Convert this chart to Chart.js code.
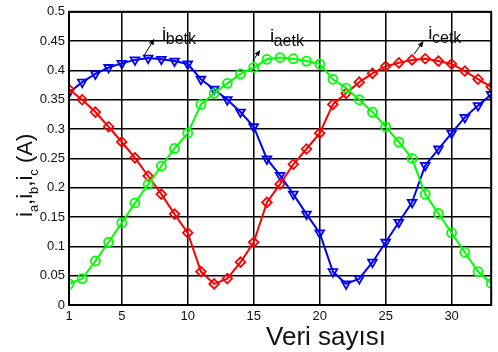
<!DOCTYPE html>
<html>
<head>
<meta charset="utf-8">
<script src="https://cdn.jsdelivr.net/npm/chart.js@4.4.1/dist/chart.umd.min.js"></script>
<style>
  html, body { margin: 0; padding: 0; background: #fff; }
  #wrap { width: 498px; height: 352px; position: relative; }
</style>
</head>
<body>
<div id="wrap"><canvas id="c" width="498" height="352"></canvas></div>
<script>
// ---- data ----
const samples = [1,2,3,4,5,6,7,8,9,10,11,12,13,14,15,16,17,18,19,20,21,22,23,24,25,26,27,28,29,30,31,32,33];
const ia = [0.036,0.045,0.075,0.107,0.140,0.174,0.206,0.237,0.267,0.293,0.342,0.361,0.378,0.394,0.405,0.419,0.422,0.420,0.416,0.411,0.385,0.370,0.350,0.329,0.304,0.278,0.250,0.189,0.156,0.123,0.090,0.057,0.037];
const ib = [0.362,0.380,0.394,0.405,0.412,0.418,0.421,0.419,0.416,0.411,0.385,0.368,0.350,0.329,0.304,0.249,0.221,0.189,0.155,0.123,0.057,0.036,0.045,0.073,0.107,0.141,0.175,0.238,0.266,0.293,0.320,0.340,0.359];
const ic = [0.368,0.350,0.329,0.304,0.278,0.251,0.220,0.189,0.155,0.123,0.057,0.036,0.045,0.073,0.107,0.175,0.206,0.240,0.266,0.293,0.342,0.361,0.380,0.395,0.407,0.413,0.418,0.420,0.416,0.411,0.399,0.385,0.372];
const xTicks = [1,5,10,15,20,25,30];
const yTickLabels = ['0','0.05','0.1','0.15','0.2','0.25','0.3','0.35','0.4','0.45','0.5'];
const xTitle = 'Veri sayısı';
const seriesNames = ['betk','aetk','cetk'];

// ---- annotation placement (data coords) ----
const annos = [
  { main: 'i', sub: seriesNames[0], tx: 8.05, ty: 0.4515, ax0: 6.68, ay0: 0.425, ax1: 7.47, ay1: 0.454 },
  { main: 'i', sub: seriesNames[1], tx: 16.23, ty: 0.449, ax0: 14.93, ay0: 0.416, ax1: 15.49, ay1: 0.435 },
  { main: 'i', sub: seriesNames[2], tx: 28.23, ty: 0.453, ax0: 27.16, ay0: 0.428, ax1: 27.87, ay1: 0.450 }
];

const FONT = "'Liberation Sans', Arial, Helvetica, sans-serif";
const toPts = arr => arr.map((v, i) => ({ x: samples[i], y: v }));

const decor = {
  id: 'decor',
  afterDatasetsDraw(chart) {
    const ctx = chart.ctx, xs = chart.scales.x, ys = chart.scales.y, a = chart.chartArea;
    ctx.save();
    // frame
    ctx.strokeStyle = '#000';
    ctx.lineWidth = 2;
    ctx.strokeRect(a.left, a.top, a.right - a.left, a.bottom - a.top);
    // annotations
    annos.forEach(n => {
      const x0 = xs.getPixelForValue(n.ax0), y0 = ys.getPixelForValue(n.ay0);
      const x1 = xs.getPixelForValue(n.ax1), y1 = ys.getPixelForValue(n.ay1);
      ctx.strokeStyle = '#000'; ctx.fillStyle = '#000'; ctx.lineWidth = 1;
      const ang = Math.atan2(y1 - y0, x1 - x0);
      const hl = 6, hw = 2.6;
      ctx.beginPath(); ctx.moveTo(x0, y0);
      ctx.lineTo(x1 - Math.cos(ang) * hl, y1 - Math.sin(ang) * hl); ctx.stroke();
      ctx.beginPath();
      ctx.moveTo(x1, y1);
      ctx.lineTo(x1 - Math.cos(ang) * hl - Math.sin(ang) * hw, y1 - Math.sin(ang) * hl + Math.cos(ang) * hw);
      ctx.lineTo(x1 - Math.cos(ang) * hl + Math.sin(ang) * hw, y1 - Math.sin(ang) * hl - Math.cos(ang) * hw);
      ctx.closePath(); ctx.fill();
      const tx = xs.getPixelForValue(n.tx), ty = ys.getPixelForValue(n.ty);
      ctx.textBaseline = 'alphabetic'; ctx.textAlign = 'left';
      ctx.font = '19px ' + FONT;
      ctx.fillStyle = '#111';
      ctx.fillText(n.main, tx, ty);
      const w = ctx.measureText(n.main).width;
      ctx.font = '16px ' + FONT;
      ctx.fillText(n.sub, tx + w - 0.5, ty + 4);
    });
    ctx.restore();
  },
  afterDraw(chart) {
    const ctx = chart.ctx, a = chart.chartArea;
    ctx.save();
    ctx.fillStyle = '#111';
    // x title
    ctx.font = '26px ' + FONT;
    ctx.textAlign = 'center'; ctx.textBaseline = 'alphabetic';
    ctx.fillText(xTitle, 326, 345);
    // y title: i_a, i_b, i_c (A)
    ctx.translate(31.5, 217);
    ctx.rotate(-Math.PI / 2);
    ctx.textAlign = 'left';
    const parts = [['i',0],['a',1],[',',0],['i',0],['b',1],[',',0],['i',0],['c',1],[' (A)',0]];
    let x = 0;
    parts.forEach(([t, s]) => {
      ctx.font = (s ? '13px ' : '22px ') + FONT;
      ctx.fillText(t, x, s ? 6 : 0);
      x += ctx.measureText(t).width;
    });
    ctx.restore();
  }
};

new Chart(document.getElementById('c'), {
  type: 'line',
  data: {
    datasets: [
      { label: 'ia', data: toPts(ia), borderColor: '#00ff00', backgroundColor: 'rgba(0,0,0,0)',
        pointStyle: 'circle', pointRadius: 4.5, pointBorderWidth: 1.8, pointBorderColor: '#00ff00',
        pointBackgroundColor: 'rgba(0,0,0,0)', borderWidth: 2, tension: 0 },
      { label: 'ic', data: toPts(ic), borderColor: '#ff0000', backgroundColor: 'rgba(0,0,0,0)',
        pointStyle: 'rectRot', pointRadius: 4.8, pointBorderWidth: 1.8, pointBorderColor: '#ff0000',
        pointBackgroundColor: 'rgba(0,0,0,0)', borderWidth: 2, tension: 0 },
      { label: 'ib', data: toPts(ib), borderColor: '#0000ff', backgroundColor: 'rgba(0,0,0,0)',
        pointStyle: 'triangle', pointRotation: 180, pointRadius: 5, pointBorderWidth: 1.8, pointBorderColor: '#0000ff',
        pointBackgroundColor: 'rgba(0,0,0,0)', borderWidth: 2, tension: 0 }
    ]
  },
  options: {
    responsive: false,
    animation: false,
    events: [],
    layout: { padding: { top: 11, right: 1, left: 0, bottom: 0 } },
    plugins: { legend: { display: false }, tooltip: { enabled: false } },
    scales: {
      x: {
        type: 'linear', min: 1, max: 33,
        afterBuildTicks: s => { s.ticks = xTicks.map(v => ({ value: v })); },
        afterFit: s => { s.height = 47; },
        grid: { color: '#000', lineWidth: 1.5, drawTicks: false },
        border: { display: true, color: '#000', width: 2 },
        ticks: { padding: 4, color: '#111', font: { family: FONT, size: 13 }, maxRotation: 0, autoSkip: false,
                 callback: v => String(v) }
      },
      y: {
        type: 'linear', min: 0, max: 0.5,
        ticks: { stepSize: 0.05, padding: 4, color: '#111', font: { family: FONT, size: 13 }, autoSkip: false,
                 callback: (v, i) => yTickLabels[i] },
        afterFit: s => { s.width = 69; },
        grid: { color: '#000', lineWidth: 1.5, drawTicks: false },
        border: { display: true, color: '#000', width: 2 }
      }
    }
  },
  plugins: [decor]
});
</script>
</body>
</html>
